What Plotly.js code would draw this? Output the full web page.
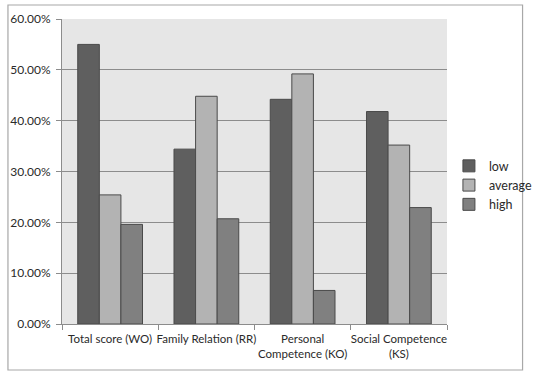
<!DOCTYPE html>
<html>
<head>
<meta charset="utf-8">
<script src="https://cdn.plot.ly/plotly-3.0.1.min.js"></script>
<style>html,body{margin:0;padding:0;background:#fff;}#chart{width:550px;height:376px;}</style>
</head>
<body>
<div id="chart"></div>
<script>
var categories = ["Total score (WO)", "Family Relation (RR)", "Personal<br>Competence (KO)", "Social Competence<br>(KS)"];
var seriesNames = ["low", "average", "high"];
var lowValues = [0.550, 0.344, 0.442, 0.418];
var averageValues = [0.254, 0.448, 0.492, 0.352];
var highValues = [0.196, 0.207, 0.066, 0.229];
var yTickValues = [0, 0.1, 0.2, 0.3, 0.4, 0.5, 0.6];
var yTickLabels = ["0.00%", "10.00%", "20.00%", "30.00%", "40.00%", "50.00%", "60.00%"];

var colors = ["#5f5f5f", "#b3b3b3", "#808080"];
var allValues = [lowValues, averageValues, highValues];
var traces = allValues.map(function (vals, i) {
  return {
    type: "bar",
    name: seriesNames[i],
    x: categories,
    y: vals,
    marker: { color: colors[i], line: { color: "#4a4a4a", width: 1 } },
    hoverinfo: "skip"
  };
});

var layout = {
  width: 550,
  height: 376,
  margin: { l: 61.5, r: 86, t: 19, b: 52 },
  paper_bgcolor: "#ffffff",
  plot_bgcolor: "#e6e6e6",
  barmode: "group",
  bargap: 0.327,
  bargroupgap: 0,
  font: { family: "Lato, 'Open Sans', sans-serif", size: 11.5, color: "#2a2a2a" },
  xaxis: {
    type: "category",
    tickson: "boundaries",
    ticks: "outside",
    ticklen: 5,
    tickcolor: "#8c8c8c",
    showline: true,
    linecolor: "#8c8c8c",
    linewidth: 1,
    showgrid: false,
    tickangle: 0,
    ticklabelstandoff: 4,
    tickfont: { size: 11.5 },
    automargin: false
  },
  yaxis: {
    range: [0, 0.6],
    tickvals: yTickValues,
    ticktext: yTickLabels,
    ticks: "outside",
    ticklen: 5,
    tickcolor: "#8c8c8c",
    showline: true,
    linecolor: "#8c8c8c",
    linewidth: 1,
    showgrid: true,
    gridcolor: "#8c8c8c",
    gridwidth: 1,
    zeroline: false,
    ticklabelstandoff: 3,
    tickfont: { size: 12 },
    automargin: false
  },
  legend: {
    x: 1.005,
    xanchor: "left",
    y: 0.455,
    yanchor: "middle",
    bgcolor: "rgba(0,0,0,0)",
    font: { size: 12.5 },
    itemwidth: 30
  },
  shapes: [{
    type: "rect",
    xref: "paper", yref: "paper",
    x0: -56.5 / 402.5, x1: (543 - 61.5) / 402.5,
    y0: (324 - 370) / 305, y1: (324 - 5) / 305,
    line: { color: "#a8a8a8", width: 1.2 },
    fillcolor: "rgba(0,0,0,0)",
    layer: "below"
  }]
};

Plotly.newPlot("chart", traces, layout, { displayModeBar: false, staticPlot: true });
</script>
</body>
</html>
